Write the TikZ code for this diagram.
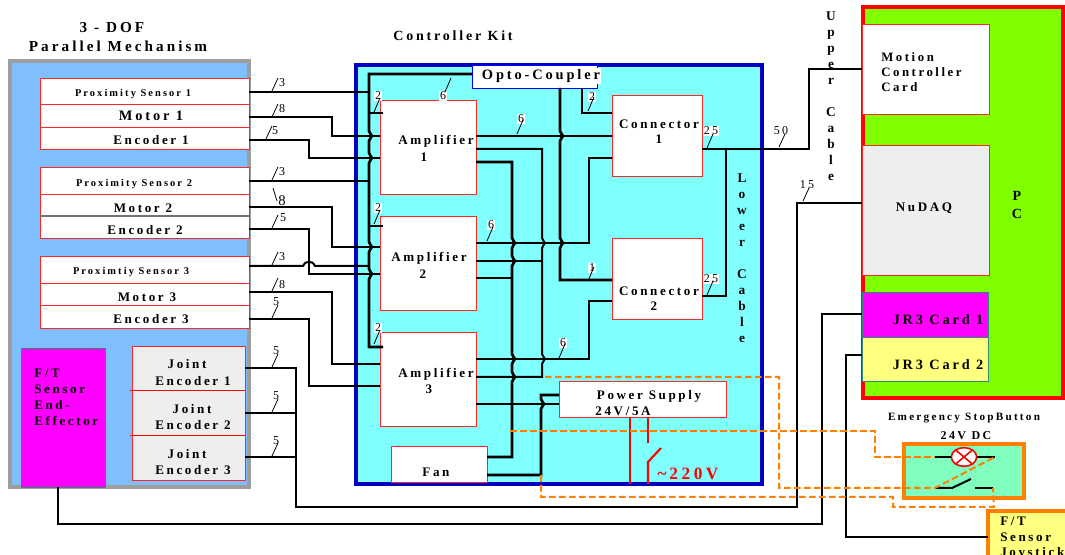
\documentclass[tikz,border=0pt]{standalone}
\usepackage{fontspec}
\setmainfont{Liberation Serif}
\newfontfamily\spacedfont[LetterSpace=20]{Liberation Serif}
\usetikzlibrary{shapes.geometric}
\definecolor{cmech}{HTML}{80BFFF}
\definecolor{ckit}{HTML}{80FFFF}
\definecolor{cnavy}{HTML}{0000C0}
\definecolor{clime}{HTML}{80FF00}
\definecolor{cgreyfill}{HTML}{EEEEEE}
\definecolor{cmag}{HTML}{FF00FF}
\definecolor{cyel}{HTML}{FFFF80}
\definecolor{cmint}{HTML}{80FFBF}
\definecolor{cedge}{HTML}{2E8B7A}
\definecolor{corange}{HTML}{FF8000}
\tikzset{
  base/.style={rectangle, inner sep=0pt, outer sep=0pt},
  box/.style={base, draw=red!85, line width=0.65pt, fill=#1},
  box/.default=white,
  card/.style={base, draw=cedge, line width=0.65pt, fill=#1},
  lbl/.style={font=\spacedfont\bfseries\fontsize{#1}{14}\selectfont, align=center, inner sep=0pt},
  lbl/.default=9.8,
  num/.style={font=\spacedfont\fontsize{9}{10}\selectfont, inner sep=0.6pt},
  numbg/.style={num, fill=white},
  tick/.style={line width=0.6pt},
  wire/.style={line width=1.5pt, line join=miter},
  heavy/.style={line width=2pt, line join=miter},
  dashline/.style={draw=corange, line width=1.5pt, dash pattern=on 5pt off 2.5pt},
  power/.style={draw=red, line width=1.6pt},
}
\newcommand{\block}[6]{\node[#1, minimum width={(#5-#3)*0.75pt}, minimum height={(#6-#4)*0.75pt}] (#2) at ({(#3+#5)/2},{(#4+#6)/2}) {};}
\newcommand{\vhop}[2]{-- (#1,#2-5) .. controls (#1,#2-2) and (#1+3,#2-2) .. (#1+3,#2) .. controls (#1+3,#2+2) and (#1,#2+2) .. (#1,#2+5)}
\begin{document}
\begin{tikzpicture}[x=0.75pt,y=-0.75pt]
  \clip (0,0) rectangle (1065,555);
  % big panels
  \block{base, draw=black!38, line width=3pt, fill=cmech}{mech}{10}{61}{249}{487}
  \block{base, draw=cnavy, line width=2.6pt, fill=ckit}{kit}{356}{65}{762}{484}
  \block{base, draw=red, line width=3pt, fill=clime}{pc}{863}{7}{1063}{398}
  % 3-dof side
  \foreach \nm/\ya/\yb in {prox1/78/104,mot1/104/127,enc1/127/149,prox2/167/194,mot2/194/216,enc2/216/238,prox3/256/283,mot3/283/305,enc3/305/328} {
    \block{box}{\nm}{40}{\ya}{249}{\yb}
  }
  \draw[black!55, line width=0.8pt] (mot2.south west) -- (mot2.south east);
  \block{card=cmag}{ftsens}{21}{348}{105}{487}
  \block{box=cgreyfill}{joints}{132}{346}{245}{480}
  \coordinate (sepa) at (130,390);
  \coordinate (sepb) at (130,435);
  \draw[red, line width=0.65pt] (sepa) -- (joints.east |- sepa);
  \draw[red, line width=0.65pt] (sepb) -- (joints.east |- sepb);
  % controller kit
  \block{base, draw=blue, line width=0.6pt, fill=white}{opto}{472}{65}{597}{88}
  \foreach \nm/\ya/\yb in {amp1/100/194,amp2/216/310,amp3/332/426} {
    \block{box}{\nm}{380}{\ya}{476}{\yb}
  }
  \block{box}{fan}{391}{446}{487}{482}
  \block{box}{conn1}{612}{95}{702}{176}
  \block{box}{conn2}{612}{238}{702}{319}
  \block{box}{psu}{559}{381}{726}{417}
  % pc side
  \block{box}{motion}{862}{24}{989}{114}
  \block{box=cgreyfill}{nudaq}{862}{145}{989}{275}
  \block{card=cmag}{jra}{862}{292}{988}{337}
  \block{card=cyel}{jrb}{862}{337}{988}{381}
  \block{base, draw=corange, line width=2.4pt, fill=cmint}{estop}{904}{444}{1024}{498}
  \block{base, draw=corange, line width=2.4pt, fill=cyel}{joy}{988}{511}{1085}{575}
  % wires from the mechanism
  \draw[heavy] (prox1.east |- 0,92) -- (369,92);
  \draw[wire] (mot1.east |- 0,117) -- (332,117) -- (332,136) -- (amp1.west |- 0,136);
  \draw[wire] (enc1.east |- 0,140) -- (309,140) -- (309,158) -- (amp1.west |- 0,158);
  \draw[wire] (prox2.east |- 0,181) -- (369,181);
  \draw[heavy] (mot2.east |- 0,207) -- (332,207) -- (332,247) -- (amp2.west |- 0,247);
  \draw[wire] (enc2.east |- 0,229) -- (309,229) -- (309,274) -- (amp2.west |- 0,274);
  \draw[wire] (prox3.east |- 0,266) -- (303,266) .. controls (305,262) and (307,262) .. (309,262) .. controls (311,262) and (313,262) .. (315,266) -- (369,266);
  \draw[heavy] (mot3.east |- 0,292) -- (332,292) -- (332,364) -- (amp3.west |- 0,364);
  \draw[heavy] (enc3.east |- 0,319) -- (309,319) -- (309,386) -- (amp3.west |- 0,386);
  % joint encoders and cards
  \draw[wire] (joints.east |- 0,368) -- (296,368) -- (296,507) -- (797,507) -- (797,203) -- (nudaq.west |- 0,203);
  \draw[wire] (joints.east |- 0,413) -- (296,413);
  \draw[wire] (joints.east |- 0,457) -- (296,457);
  \draw[heavy] (58,487) -- (58,524) -- (822,524) -- (822,314) -- (jra.west |- 0,314);
  \draw[heavy] (joy.west |- 0,537) -- (846,537) -- (846,355) -- (jrb.west |- 0,355);
  % bus from the opto-coupler
  \draw[heavy] (opto.west |- 0,74) -- (369,74) \vhop{369}{136} \vhop{369}{158} \vhop{369}{247} \vhop{369}{274} -- (369,347) -- (383,347);
  \draw[wire] (369,113) -- (383,113);
  \draw[wire] (369,226) -- (383,226);
  \draw[heavy] (560,88) \vhop{560}{136} \vhop{560}{243} -- (560,280) -- (conn2.west |- 0,280);
  \draw[heavy] (582,88) -- (582,113) -- (conn1.west |- 0,113);
  % amplifier outputs
  \draw[wire] (amp1.east |- 0,136) -- (conn1.west |- 0,136);
  \draw[wire] (amp1.east |- 0,149) -- (542,149) \vhop{542}{243} \vhop{542}{359} -- (542,377) -- (amp3.east |- 0,377);
  \draw[heavy] (amp1.east |- 0,162) -- (512,162) \vhop{512}{243} \vhop{512}{261} \vhop{512}{359} \vhop{512}{377} -- (512,457) -- (fan.east |- 0,457);
  \draw[heavy] (amp2.east |- 0,243) -- (589,243) -- (589,158) -- (conn1.west |- 0,158);
  \draw[wire] (amp2.east |- 0,261) -- (542,261);
  \draw[wire] (amp2.east |- 0,278) -- (512,278);
  \draw[heavy] (amp3.east |- 0,359) -- (589,359) -- (589,301) -- (conn2.west |- 0,301);
  \draw[wire] (amp3.east |- 0,404) -- (psu.west |- 0,404);
  \draw[heavy] (psu.west |- 0,395) -- (541,395) \vhop{541}{404} -- (541,475) -- (fan.east |- 0,475);
  % cables
  \draw[heavy] (conn1.east |- 0,149) -- (809,149) -- (809,69) -- (motion.west |- 0,69);
  \draw[heavy] (conn2.east |- 0,296) -- (726,296) -- (726,149);
  % mains
  \coordinate (maina) at (630,484);
  \coordinate (mainb) at (648,443);
  \coordinate (mainc) at (648,484);
  \draw[power] (psu.south -| maina) -- (maina);
  \draw[power] (psu.south -| mainb) -- (mainb);
  \draw[power] (mainc) -- (648,462) -- (661,448);
  % emergency stop
  \node[ellipse, draw=red, line width=1.2pt, fill=white, minimum width=19pt, minimum height=14pt, inner sep=0pt] (lamp) at (964,457) {};
  \draw[red, line width=1.2pt] (lamp.40) -- (lamp.220) (lamp.140) -- (lamp.-40);
  \coordinate (stopa) at (935,457);
  \coordinate (stopb) at (995,457);
  \coordinate (swa) at (935,488);
  \coordinate (swb) at (993,488);
  \draw[wire] (stopa) -- (lamp.west) (lamp.east) -- (stopb);
  \draw[wire] (swa) -- (952,488) -- (971,479);
  \draw[wire] (975,488) -- (swb);
  \coordinate (dasha) at (545,377);
  \coordinate (dashb) at (510,431);
  \coordinate (dashc) at (541,475);
  \draw[dashline] (dasha) -- (779,377) -- (779,488) -- (swa) -- (stopb);
  \draw[dashline] (dashb) -- (875,431) -- (875,457) -- (stopa);
  \draw[dashline] (dashc) -- (541,497) -- (893,497) -- (893,507) -- (994,507) -- (swb);
  % bundle marks
  \foreach \tx/\ty/\n/\lx/\ly [count=\i] in {272/91/3/282/83,272/117/8/282/109,266/139/5/275/131,272/180/3/282/172,272/228/5/283/218,272/265/3/282/257,272/291/8/282/285,272/318/5/276/302,272/367/5/276/351,272/412/5/276/396,272/456/5/276/441,803/201/15/807/185,779/147/50/781/131} {
    \node[num] (mark\i) at (\lx,\ly) {\n};
    \draw[tick] (\tx,\ty) -- ++(6,-13);
  }
  \node[num, font=\spacedfont\fontsize{11}{12}\selectfont] (markb) at (282,201) {8};
  \draw[tick] (273,188) -- ++(4,13);
  \foreach \tx/\ty/\n/\lx/\ly [count=\i] in {374/112/2/378/96,374/224/2/378/208,374/344/2/378/328,445/92/6/443/96,517/134/6/521/119,487/241/6/491/225,588/281/1/592/268,559/358/6/563/343,588/111/2/592/97,707/148/25/711/131,707/295/25/711/279} {
    \node[numbg] (tag\i) at (\lx,\ly) {\n};
    \draw[tick] (\tx,\ty) -- ++(6,-14);
  }
  % titles and box texts
  \node[lbl=11.4] (mechtitle) at (112,28) {3 - DOF};
  \node[lbl=11.4] (mechname) at (118,46) {Parallel Mechanism};
  \node[lbl=10.5] (kittitle) at (453,36) {Controller Kit};
  \foreach \nm/\x/\y/\t in {tprox1/133/94/Proximity Sensor 1,tprox2/134/184/Proximity Sensor 2,tprox3/131/272/Proximtiy Sensor 3} {
    \node[lbl=7.8] (\nm) at (\x,\y) {\t};
  }
  \foreach \nm/\x/\y/\t in {tenc1/151/140/Encoder 1,tmot2/143/208/Motor 2,tenc2/145/230/Encoder 2,tmot3/147/297/Motor 3,tenc3/151/319/Encoder 3,tfan/436/472/Fan,tja/187/364/Joint,tjae/193/381/Encoder 1,tjb/192/409/Joint,tjbe/193/425/Encoder 2,tjc/187/454/Joint,tjce/193/470/Encoder 3,tampa/436/141/Amplifier,tampan/424/157/1,tampb/429/258/Amplifier,tampbn/423/274/2,tampc/436/374/Amplifier,tampcn/429/389/3,tconna/659/124/Connector,tconnan/659/139/1,tconnb/659/291/Connector,tconnbn/654/306/2,tnudaq/924/208/NuDAQ,tpsu/649/396/Power Supply} {
    \node[lbl] (\nm) at (\x,\y) {\t};
  }
  \node[lbl] (tvolt) at (623,411) {24V/5A};
  \node[lbl=10.8] (tmot1) at (151,116) {Motor 1};
  \node[lbl=10.7] (tjra) at (938,320) {JR3 Card 1};
  \node[lbl=10.7] (tjrb) at (938,365) {JR3 Card 2};
  \node[lbl=10.8, fill=white, inner sep=1pt] (topto) at (541,76) {Opto-Coupler};
  \node[lbl, anchor=north west, align=left, font=\spacedfont\bfseries\fontsize{9.8}{11.8}\selectfont] (tft) at (34,369) {F/T\\Sensor\\End-\\Effector};
  \node[lbl, anchor=north west, align=left, font=\spacedfont\bfseries\fontsize{9.6}{11.4}\selectfont] (tmotion) at (881,52) {Motion\\Controller\\Card};
  \node[lbl, font=\spacedfont\bfseries\fontsize{10.5}{14.2}\selectfont] (tpc) at (1017,205) {P\\C};
  \node[lbl=8.4] (tstop) at (964,418) {Emergency StopButton};
  \node[lbl=9] (tdc) at (966,436) {24V DC};
  \node[lbl, anchor=north west, align=left, font=\spacedfont\bfseries\fontsize{9.8}{11.6}\selectfont] (tjoy) at (1000,517) {F/T\\Sensor\\Joystick};
  \node[lbl=13, text=red] (tmains) at (688,474) {\textasciitilde\,220V};
  \node[lbl, font=\spacedfont\bfseries\fontsize{10}{12}\selectfont] (tupper) at (831,96) {U\\p\\p\\e\\r\\[12pt]C\\a\\b\\l\\e};
  \node[lbl, font=\spacedfont\bfseries\fontsize{10}{12}\selectfont] (tlower) at (742,258) {L\\o\\w\\e\\r\\[12pt]C\\a\\b\\l\\e};
\end{tikzpicture}
\end{document}
